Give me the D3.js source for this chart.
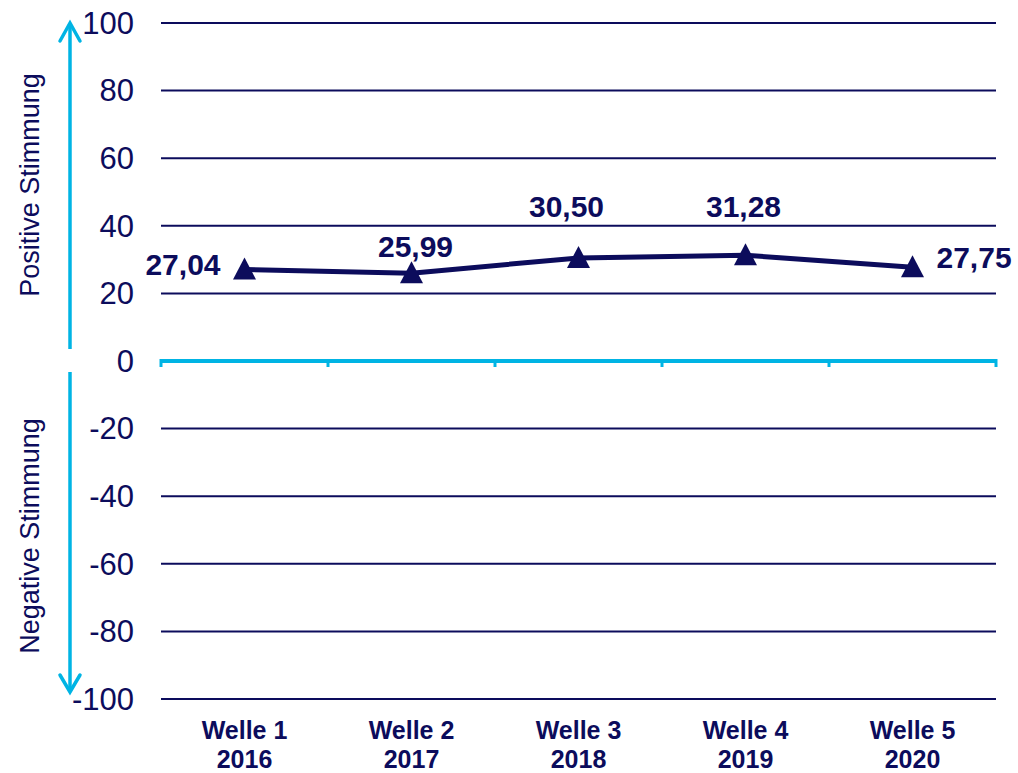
<!DOCTYPE html>
<html>
<head>
<meta charset="utf-8">
<script src="https://cdn.jsdelivr.net/npm/d3@7"></script>
<style>
  body { margin: 0; background: #fff; }
  text { font-family: "Liberation Sans", Arial, sans-serif; fill: #0c0c5c; }
</style>
</head>
<body>
<svg id="chart" width="1018" height="773"></svg>
<script>
const waves = ["Welle 1", "Welle 2", "Welle 3", "Welle 4", "Welle 5"];
const years = ["2016", "2017", "2018", "2019", "2020"];
const values = [27.04, 25.99, 30.50, 31.28, 27.75];
const yTicks = [100, 80, 60, 40, 20, 0, -20, -40, -60, -80, -100];

// label placement relative to each point (layout only)
const labelAnchor = ["end", "middle", "middle", "middle", "start"];
const labelDx = [-24, 4, -12, -2, 24];
const labelDy = [5, -16, -41, -38, 1];

const navy = "#0c0c5c";
const cyan = "#00b4e4";

const svg = d3.select("#chart");
const margin = { left: 161, right: 22, top: 23, bottom: 74 };
const W = 1018, H = 773;

const x = d3.scaleBand().domain(waves).range([margin.left, W - margin.right]);
const y = d3.scaleLinear().domain([-100, 100]).range([H - margin.bottom, margin.top]);

// grid lines
svg.append("g")
    .selectAll("line")
    .data(yTicks.filter((d) => d !== 0))
    .join("line")
    .attr("x1", margin.left)
    .attr("x2", W - margin.right)
    .attr("y1", (d) => y(d))
    .attr("y2", (d) => y(d))
    .attr("stroke", navy)
    .attr("stroke-width", 2);

// y tick labels
svg.append("g")
    .selectAll("text")
    .data(yTicks)
    .join("text")
    .attr("x", 134)
    .attr("y", (d) => y(d))
    .attr("dy", "0.35em")
    .attr("text-anchor", "end")
    .style("font-size", "31px")
    .text((d) => d);

// zero axis with category ticks
svg.append("line")
    .attr("x1", margin.left)
    .attr("x2", W - margin.right)
    .attr("y1", y(0))
    .attr("y2", y(0))
    .attr("stroke", cyan)
    .attr("stroke-width", 4);
const bounds = waves.map((w) => x(w)).concat([x(waves[waves.length - 1]) + x.bandwidth()]);
svg.append("g")
    .selectAll("line")
    .data(bounds)
    .join("line")
    .attr("x1", (d) => d)
    .attr("x2", (d) => d)
    .attr("y1", y(0) - 2)
    .attr("y2", y(0) + 6)
    .attr("stroke", cyan)
    .attr("stroke-width", 3);

// x labels
const xl = svg.append("g")
    .selectAll("text")
    .data(waves)
    .join("text")
    .attr("text-anchor", "middle")
    .style("font-size", "25px")
    .style("font-weight", "bold");
xl.append("tspan")
    .attr("x", (d) => x(d) + x.bandwidth() / 2)
    .attr("y", 739)
    .text((d) => d);
xl.append("tspan")
    .attr("x", (d) => x(d) + x.bandwidth() / 2)
    .attr("y", 768)
    .text((d, i) => years[i]);

// side arrows
const ax = 70;
const arrows = svg.append("g")
    .attr("fill", "none")
    .attr("stroke", cyan)
    .attr("stroke-width", 3.5);
arrows.append("line").attr("x1", ax).attr("x2", ax).attr("y1", 349).attr("y2", 24);
arrows.append("line").attr("x1", ax).attr("x2", ax).attr("y1", 372).attr("y2", 691);
arrows.append("path")
    .attr("d", `M${ax - 10},41 L${ax},23 L${ax + 10},41`)
    .attr("stroke-linecap", "round")
    .attr("stroke-linejoin", "miter");
arrows.append("path")
    .attr("d", `M${ax - 10},675 L${ax},692 L${ax + 10},675`)
    .attr("stroke-linecap", "round")
    .attr("stroke-linejoin", "miter");

svg.append("text")
    .attr("transform", `translate(39, 185) rotate(-90)`)
    .attr("text-anchor", "middle")
    .style("font-size", "27px")
    .text("Positive Stimmung");
svg.append("text")
    .attr("transform", `translate(39, 536) rotate(-90)`)
    .attr("text-anchor", "middle")
    .style("font-size", "27px")
    .text("Negative Stimmung");

// data line
const pts = waves.map((w, i) => ({ w, v: values[i], i }));
const cx = (d) => x(d.w) + x.bandwidth() / 2;

svg.append("path")
    .datum(pts)
    .attr("fill", "none")
    .attr("stroke", navy)
    .attr("stroke-width", 5)
    .attr("d", d3.line().x(cx).y((d) => y(d.v)));

svg.append("g")
    .selectAll("path")
    .data(pts)
    .join("path")
    .attr("transform", (d) => `translate(${cx(d)}, ${y(d.v)})`)
    .attr("d", "M0,-12 L11.5,10 L-11.5,10 Z")
    .attr("fill", navy);

const fmt = (v) => v.toFixed(2).replace(".", ",");
svg.append("g")
    .selectAll("text")
    .data(pts)
    .join("text")
    .attr("x", (d) => cx(d) + labelDx[d.i])
    .attr("y", (d) => y(d.v) + labelDy[d.i])
    .attr("text-anchor", (d) => labelAnchor[d.i])
    .style("font-size", "30px")
    .style("font-weight", "bold")
    .text((d) => fmt(d.v));
</script>
</body>
</html>
